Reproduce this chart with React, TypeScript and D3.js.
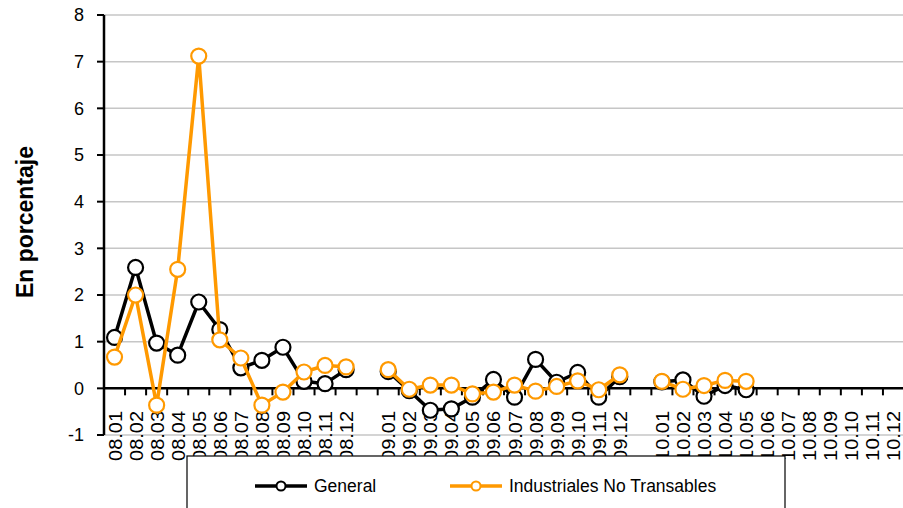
import React from "react";
import * as d3 from "d3";

const categories: string[] = [
  "08.01", "08.02", "08.03", "08.04", "08.05", "08.06", "08.07", "08.08", "08.09", "08.10", "08.11", "08.12",
  "",
  "09.01", "09.02", "09.03", "09.04", "09.05", "09.06", "09.07", "09.08", "09.09", "09.10", "09.11", "09.12",
  "",
  "10.01", "10.02", "10.03", "10.04", "10.05", "10.06", "10.07", "10.08", "10.09", "10.10", "10.11", "10.12",
];

const general: (number | null)[] = [
  1.09, 2.59, 0.97, 0.71, 1.85, 1.26, 0.44, 0.6, 0.88, 0.15, 0.1, 0.4,
  null,
  0.36, -0.05, -0.47, -0.44, -0.19, 0.19, -0.19, 0.62, 0.13, 0.34, -0.19, 0.25,
  null,
  0.14, 0.18, -0.17, 0.06, -0.03, null, null, null, null, null, null, null,
];

const noTransables: (number | null)[] = [
  0.67, 2.0, -0.36, 2.55, 7.12, 1.04, 0.65, -0.36, -0.08, 0.35, 0.49, 0.46,
  null,
  0.4, -0.02, 0.07, 0.07, -0.12, -0.08, 0.07, -0.06, 0.04, 0.16, -0.03, 0.29,
  null,
  0.15, -0.02, 0.06, 0.17, 0.15, null, null, null, null, null, null, null,
];

const yTicks: number[] = [-1, 0, 1, 2, 3, 4, 5, 6, 7, 8];

const seriesNames = ["General", "Industriales No Transables"];
const seriesColors = ["#000000", "#FF9900"];

const W = 903;
const H = 508;
const left = 104;
const right = 904;
const top = 15;
const bottom = 435;
const FONT = "'Liberation Sans', Arial, sans-serif";

export default function App() {
  const idx = categories.map((_, i) => i);
  const x = d3.scaleBand<number>().domain(idx).range([left, right]).padding(0);
  const y = d3.scaleLinear().domain([-1, 8]).range([bottom, top]);
  const cx = (i: number) => (x(i) as number) + x.bandwidth() / 2;

  const line = d3
    .line<number | null>()
    .defined((d) => d !== null)
    .x((_, i) => cx(i))
    .y((d) => y(d as number));

  const series = [general, noTransables];
  const y0 = y(0);

  return (
    <svg width={W} height={H} style={{ position: "absolute", left: 0, top: 0, background: "#fff" }}>
      <rect x={0} y={0} width={W} height={H} fill="#fff" />
      {yTicks
        .filter((t) => t !== 0)
        .map((t) => (
          <line key={t} x1={left} x2={right} y1={y(t)} y2={y(t)} stroke="#c6c6c6" strokeWidth={1.5} />
        ))}
      <line x1={left} x2={left} y1={top} y2={bottom} stroke="#000" strokeWidth={2.5} />
      {yTicks.map((t) => (
        <g key={t}>
          <line x1={left - 7} x2={left} y1={y(t)} y2={y(t)} stroke="#000" strokeWidth={2} />
          <text x={84} y={y(t)} dy="0.36em" textAnchor="end" fontFamily={FONT} fontSize={18} fill="#000">
            {t}
          </text>
        </g>
      ))}
      <text
        transform={`translate(33,222) rotate(-90)`}
        textAnchor="middle"
        fontFamily={FONT}
        fontSize={23}
        fontWeight="bold"
        fill="#000"
      >
        En porcentaje
      </text>
      {categories.map((c, i) =>
        c ? (
          <text
            key={"l" + i}
            transform={`translate(${cx(i) + 7},411) rotate(-90)`}
            textAnchor="end"
            fontFamily={FONT}
            fontSize={19}
            textLength={50}
            lengthAdjust="spacingAndGlyphs"
            fill="#000"
          >
            {c}
          </text>
        ) : null
      )}
      <line x1={left} x2={right} y1={y0} y2={y0} stroke="#000" strokeWidth={2.5} />
      {idx.slice(1).map((i) => (
        <line key={"t" + i} x1={x(i) as number} x2={x(i) as number} y1={y0} y2={y0 + 7} stroke="#000" strokeWidth={2} />
      ))}
      {series.map((s, si) => (
        <g key={si}>
          <path d={line(s) || ""} fill="none" stroke={seriesColors[si]} strokeWidth={3.5} strokeLinejoin="round" />
          {s.map((v, i) =>
            v === null ? null : (
              <circle key={i} cx={cx(i)} cy={y(v)} r={7.5} fill="#fff" stroke={seriesColors[si]} strokeWidth={2.2} />
            )
          )}
        </g>
      ))}
      <rect x={187} y={456} width={598} height={60} fill="#fff" stroke="#000" strokeWidth={1.2} />
      {seriesNames.map((n, si) => {
        const lx = si === 0 ? 255 : 450;
        return (
          <g key={n}>
            <line x1={lx} x2={lx + 52} y1={486} y2={486} stroke={seriesColors[si]} strokeWidth={3.5} />
            <circle cx={lx + 26} cy={486} r={4.5} fill="#fff" stroke={seriesColors[si]} strokeWidth={2} />
            <text x={lx + 59} y={486} dy="0.36em" fontFamily={FONT} fontSize={17.5} fill="#000">
              {n}
            </text>
          </g>
        );
      })}
    </svg>
  );
}
